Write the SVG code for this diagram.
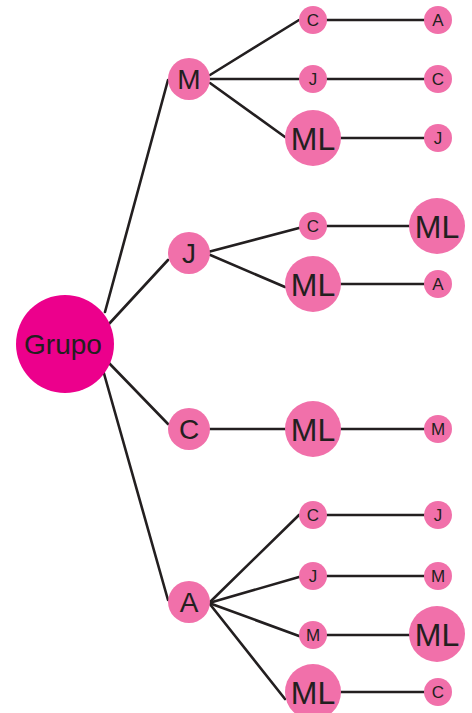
<svg xmlns="http://www.w3.org/2000/svg" width="472" height="713" viewBox="0 0 472 713">
<style>
.bg{fill:#fff}
.e{stroke:#231F20;stroke-width:2.6;fill:none;stroke-linecap:round}
.root{fill:#EC008C}
.n{fill:#F170AA}
text{font-family:"Liberation Sans","DejaVu Sans",sans-serif;fill:#231F20;text-anchor:middle}
.t0{font-size:28px}
.t1{font-size:28px}
.tb{font-size:32px}
.ts{font-size:17px}
</style>
<rect class="bg" x="0" y="0" width="472" height="713"/>
<g id="connectors">
<line class="e" x1="105" y1="312" x2="168" y2="80"/>
<line class="e" x1="108" y1="325" x2="168" y2="260"/>
<line class="e" x1="108" y1="362" x2="168" y2="424"/>
<line class="e" x1="103" y1="370" x2="168" y2="600"/>
<line class="e" x1="210" y1="75" x2="299" y2="20"/>
<line class="e" x1="210" y1="79" x2="299" y2="79"/>
<line class="e" x1="210" y1="83" x2="285" y2="137"/>
<line class="e" x1="313" y1="20" x2="438" y2="20"/>
<line class="e" x1="313" y1="79" x2="438" y2="79"/>
<line class="e" x1="313" y1="138" x2="438" y2="138"/>
<line class="e" x1="208" y1="252" x2="299" y2="228"/>
<line class="e" x1="208" y1="254" x2="285" y2="287"/>
<line class="e" x1="313" y1="226" x2="437" y2="226"/>
<line class="e" x1="313" y1="284" x2="438" y2="284"/>
<line class="e" x1="189" y1="429" x2="438" y2="429"/>
<line class="e" x1="209" y1="603" x2="299" y2="515"/>
<line class="e" x1="209" y1="603" x2="299" y2="577"/>
<line class="e" x1="209" y1="603" x2="299" y2="636"/>
<line class="e" x1="209" y1="603" x2="285" y2="699"/>
<line class="e" x1="313" y1="515" x2="438" y2="515"/>
<line class="e" x1="313" y1="576" x2="438" y2="576"/>
<line class="e" x1="313" y1="635" x2="437" y2="635"/>
<line class="e" x1="313" y1="692" x2="438" y2="692"/>
</g>
<g id="grupo"><circle class="root" cx="65" cy="344" r="49"/><text class="t0" x="63" y="354">Grupo</text></g>
<g id="m"><circle class="n" cx="189" cy="79" r="21"/><text class="t1" x="189" y="89">M</text></g>
<g id="j"><circle class="n" cx="189" cy="253" r="21"/><text class="t1" x="189" y="263">J</text></g>
<g id="c"><circle class="n" cx="189" cy="429" r="21"/><text class="t1" x="189" y="439">C</text></g>
<g id="a"><circle class="n" cx="189" cy="602" r="21"/><text class="t1" x="189" y="612">A</text></g>
<g id="m-c"><circle class="n" cx="313" cy="20" r="14"/><text class="ts" x="313" y="26">C</text></g>
<g id="m-j"><circle class="n" cx="313" cy="79" r="14"/><text class="ts" x="313" y="85">J</text></g>
<g id="m-ml"><circle class="n" cx="313" cy="138" r="28"/><text class="tb" x="313" y="150">ML</text></g>
<g id="m-c-a"><circle class="n" cx="438" cy="20" r="14"/><text class="ts" x="438" y="26">A</text></g>
<g id="m-j-c"><circle class="n" cx="438" cy="79" r="14"/><text class="ts" x="438" y="85">C</text></g>
<g id="m-ml-j"><circle class="n" cx="438" cy="138" r="14"/><text class="ts" x="438" y="144">J</text></g>
<g id="j-c"><circle class="n" cx="313" cy="226" r="14"/><text class="ts" x="313" y="232">C</text></g>
<g id="j-ml"><circle class="n" cx="313" cy="284" r="28"/><text class="tb" x="313" y="296">ML</text></g>
<g id="j-c-ml"><circle class="n" cx="437" cy="226" r="28"/><text class="tb" x="437" y="238">ML</text></g>
<g id="j-ml-a"><circle class="n" cx="438" cy="284" r="14"/><text class="ts" x="438" y="290">A</text></g>
<g id="c-ml"><circle class="n" cx="313" cy="429" r="28"/><text class="tb" x="313" y="441">ML</text></g>
<g id="c-ml-m"><circle class="n" cx="438" cy="429" r="14"/><text class="ts" x="438" y="435">M</text></g>
<g id="a-c"><circle class="n" cx="313" cy="515" r="14"/><text class="ts" x="313" y="521">C</text></g>
<g id="a-j"><circle class="n" cx="313" cy="576" r="14"/><text class="ts" x="313" y="582">J</text></g>
<g id="a-m"><circle class="n" cx="313" cy="635" r="14"/><text class="ts" x="313" y="641">M</text></g>
<g id="a-ml"><circle class="n" cx="313" cy="692" r="28"/><text class="tb" x="313" y="704">ML</text></g>
<g id="a-c-j"><circle class="n" cx="438" cy="515" r="14"/><text class="ts" x="438" y="521">J</text></g>
<g id="a-j-m"><circle class="n" cx="438" cy="576" r="14"/><text class="ts" x="438" y="582">M</text></g>
<g id="a-m-ml"><circle class="n" cx="437" cy="634" r="28"/><text class="tb" x="437" y="646">ML</text></g>
<g id="a-ml-c"><circle class="n" cx="438" cy="692" r="14"/><text class="ts" x="438" y="698">C</text></g>
</svg>
